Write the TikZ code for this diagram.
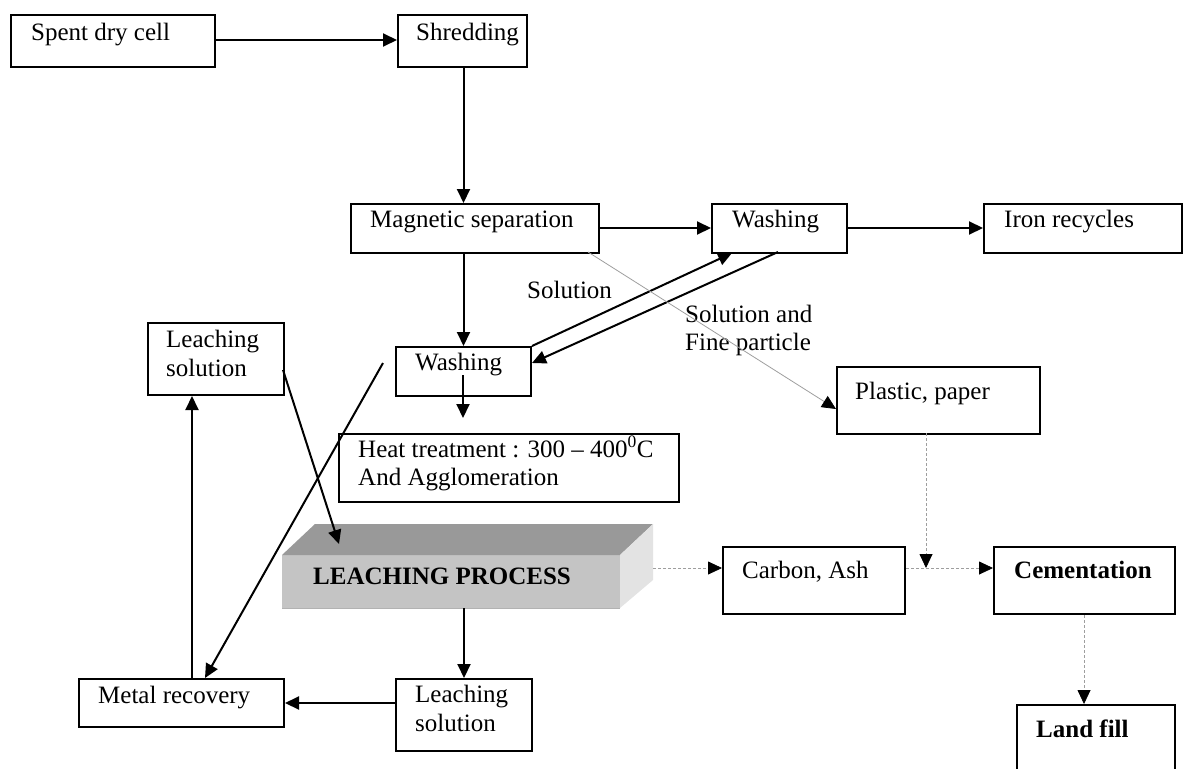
\documentclass[tikz,border=0pt]{standalone}
\usepackage{fontspec}
\setmainfont{Liberation Serif}
\usetikzlibrary{arrows.meta}
\begin{document}
\begin{tikzpicture}[x=1pt,y=-1pt,
  box/.style={draw=black, line width=2pt, fill=white, inner sep=0pt, anchor=north west},
  txt/.style={inner sep=0pt, anchor=base west, font=\fontsize{25}{28}\selectfont},
  btxt/.style={txt, font=\fontsize{25}{28}\selectfont\bfseries},
  arr/.style={line width=2pt, -{Triangle[length=14pt,width=13pt]}},
  grayarr/.style={draw=black!38, line width=0.8pt, -{Triangle[length=14pt,width=13pt,color=black]}},
  dasharr/.style={grayarr, dash pattern=on 3pt off 2pt},
]
\useasboundingbox (0,0) rectangle (1190,768);
\clip (0,0) rectangle (1190,768);

% process boxes
\node[box, minimum width=204, minimum height=52] (sdc) at (10,14) {};
\node[box, minimum width=129, minimum height=52] (shr) at (397,14) {};
\node[box, minimum width=248, minimum height=49] (mag) at (350,203) {};
\node[box, minimum width=135, minimum height=49] (wu) at (711,203) {};
\node[box, minimum width=198, minimum height=49] (iron) at (983,203) {};
\node[box, minimum width=135, minimum height=49] (wl) at (395,346) {};
\node[box, minimum width=340, minimum height=68] (heat) at (338,433) {};
\node[box, minimum width=136, minimum height=72] (lsu) at (147,322) {};
\node[box, minimum width=205, minimum height=48] (mr) at (78,678) {};
\node[box, minimum width=136, minimum height=72] (lsl) at (395,678) {};
\node[box, minimum width=203, minimum height=67] (pp) at (836,366) {};
\node[box, minimum width=182, minimum height=67] (ca) at (722,546) {};
\node[box, minimum width=181, minimum height=67] (cem) at (993,546) {};
\node[box, minimum width=158, minimum height=100] (lf) at (1016,704) {};

% leaching process block drawn as a shaded slab
\node[inner sep=0pt, anchor=north west, fill=black!23, minimum width=338, minimum height=53] (lp) at (282,555) {};
\fill[black!40] (282,555) -- (315,524) -- (653,524) -- (620,555) -- cycle;
\fill[black!11] (620,555) -- (653,524) -- (653,580) -- (620,608) -- cycle;
\draw[black!30, line width=0.8pt] (282,608) -- (620,608);

% box texts
\node[txt] (t-sdc) at (31,41) {Spent dry cell};
\node[txt] (t-shr) at (416,41) {Shredding};
\node[txt] (t-mag) at (370,227) {Magnetic separation};
\node[txt] (t-wu) at (732,227) {Washing};
\node[txt] (t-iron) at (1004,227) {Iron recycles};
\node[txt] (t-wl) at (415,370) {Washing};
\node[txt] (t-heat1) at (358,457) {Heat treatment : 300 – 400\textsuperscript{0}C};
\node[txt] (t-heat2) at (358,485) {And Agglomeration};
\node[txt] (t-lsu1) at (166,347) {Leaching};
\node[txt] (t-lsu2) at (166,376) {solution};
\node[txt] (t-mr) at (98,703) {Metal recovery};
\node[txt] (t-lsl1) at (415,702) {Leaching};
\node[txt] (t-lsl2) at (415,731) {solution};
\node[txt] (t-pp) at (855,399) {Plastic, paper};
\node[txt] (t-ca) at (742,578) {Carbon, Ash};
\node[btxt] (t-cem) at (1014,578) {Cementation};
\node[btxt] (t-lf) at (1036,737) {Land fill};
\node[btxt] (t-lp) at (313,584) {LEACHING PROCESS};

% connector labels
\node[txt] (t-sol) at (527,298) {Solution};
\node[txt] (t-sf1) at (685,322) {Solution and};
\node[txt] (t-sf2) at (685,350) {Fine particle};

% helper points
\coordinate (wl-out) at (463,375);
\coordinate (ht-in) at (463,418);
\coordinate (mr-up) at (192,678);
\coordinate (lsu-out) at (283,370);
\coordinate (lp-in) at (339,544);
\coordinate (x-start) at (383,363);
\coordinate (mr-in) at (205,678);
\coordinate (wu-in) at (732,253);
\coordinate (wu-out) at (778,252);
\coordinate (wl-in) at (532,363);
\coordinate (mag-out) at (588,252);
\coordinate (pp-in) at (836,409);
\coordinate (pp-out) at (926,433);
\coordinate (join) at (926,568);
\coordinate (lp-out) at (653,568);

% main flow
\draw[arr] (sdc.east |- 0,40) -- (shr.west |- 0,40);
\draw[arr] (shr.south -| wl.north) -- (mag.north -| wl.north);
\draw[arr] (mag.east |- 0,228) -- (wu.west |- 0,228);
\draw[arr] (wu.east |- 0,228) -- (iron.west |- 0,228);
\draw[arr] (mag.south -| wl.north) -- (wl.north);
\draw[arr] (wl-out) -- (ht-in);
\draw[arr] (wl.north east) -- (wu-in);
\draw[arr] (wu-out) -- (wl-in);
\draw[arr] (lp.south -| lsl.north) -- (lsl.north);
\draw[arr] (lsl.west |- mr.east) -- (mr.east);
\draw[arr] (mr-up) -- (lsu.south -| mr-up);
\draw[arr] (lsu-out) -- (lp-in);
\draw[arr] (x-start) -- (mr-in);

% residue streams
\draw[grayarr] (mag-out) -- (pp-in);
\draw[dasharr] (pp-out) -- (join);
\draw[dasharr] (lp-out) -- (ca.west |- lp-out);
\draw[dasharr] (ca.east |- lp-out) -- (cem.west |- lp-out);
\draw[dasharr] (cem.south -| 1084,0) -- (lf.north -| 1084,0);
\end{tikzpicture}
\end{document}
